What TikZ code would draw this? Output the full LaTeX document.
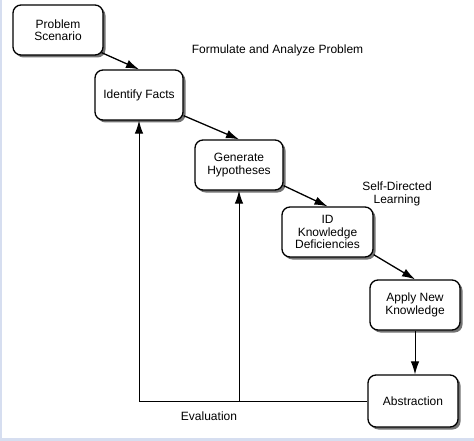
\documentclass[tikz,border=0pt]{standalone}
\usepackage{fontspec}
\setmainfont{Liberation Sans}
\usetikzlibrary{calc,shadows,arrows.meta}
\definecolor{edgeblue}{RGB}{214,222,240}
\begin{document}
\begin{tikzpicture}[x=1pt,y=-1pt,
  stepbox/.style={draw=black,line width=1.3pt,rounded corners=8pt,fill=white,
    align=center,font=\fontsize{12}{12.5}\selectfont,inner sep=0pt,
    drop shadow={shadow xshift=2.5pt,shadow yshift=-2.5pt,fill=black!55,opacity=1}},
  conn/.style={line width=1.3pt,-{Latex[length=13pt,width=8.5pt]}},
  plain/.style={line width=1pt},
  lbl/.style={font=\fontsize{12}{12.5}\selectfont,align=center,inner sep=0pt}]
\useasboundingbox (0,0) rectangle (474,441);
\fill[white] (0,0) rectangle (474,441);
\fill[edgeblue] (0,0) rectangle (2,441);
\fill[edgeblue] (0,438) rectangle (474,441);
\node[stepbox,minimum width=90pt,minimum height=50pt] (PS) at (58,30) {Problem\\Scenario};
\node[stepbox,minimum width=88pt,minimum height=50pt] (IF) at (139,95) {Identify Facts};
\node[stepbox,minimum width=88pt,minimum height=50pt] (GH) at (239,165) {Generate\\Hypotheses};
\node[stepbox,minimum width=91pt,minimum height=50pt] (ID) at (327.5,232) {ID\\Knowledge\\Deficiencies};
\node[stepbox,minimum width=90pt,minimum height=50pt] (AN) at (415,305) {Apply New\\Knowledge};
\node[stepbox,minimum width=90pt,minimum height=52pt] (AB) at (413,401) {Abstraction};
\node[lbl] (L1) at (277.5,50) {Formulate and Analyze Problem};
\node[lbl] (L2) at (397,194) {Self-Directed\\Learning};
\node[lbl] (L3) at (209,416) {Evaluation};
\draw[conn] ($(PS.south east)+(-2,-3)$) -- (IF.north);
\draw[conn] ($(IF.south east)+(0,-5)$) -- (GH.north);
\draw[conn] ($(GH.south east)+(0,-5)$) -- (ID.north);
\draw[conn] ($(ID.south east)+(0,-3)$) -- (AN.north);
\draw[conn,line width=1pt] (AN.south) -- (AN.south |- AB.north);
\coordinate (C1) at (IF.south |- AB.west);
\coordinate (C2) at (GH.south |- AB.west);
\draw[plain] (AB.west) -- (C1);
\draw[conn,line width=1pt] (C1) -- (IF.south);
\draw[conn,line width=1pt] (C2) -- (GH.south);
\end{tikzpicture}
\end{document}
